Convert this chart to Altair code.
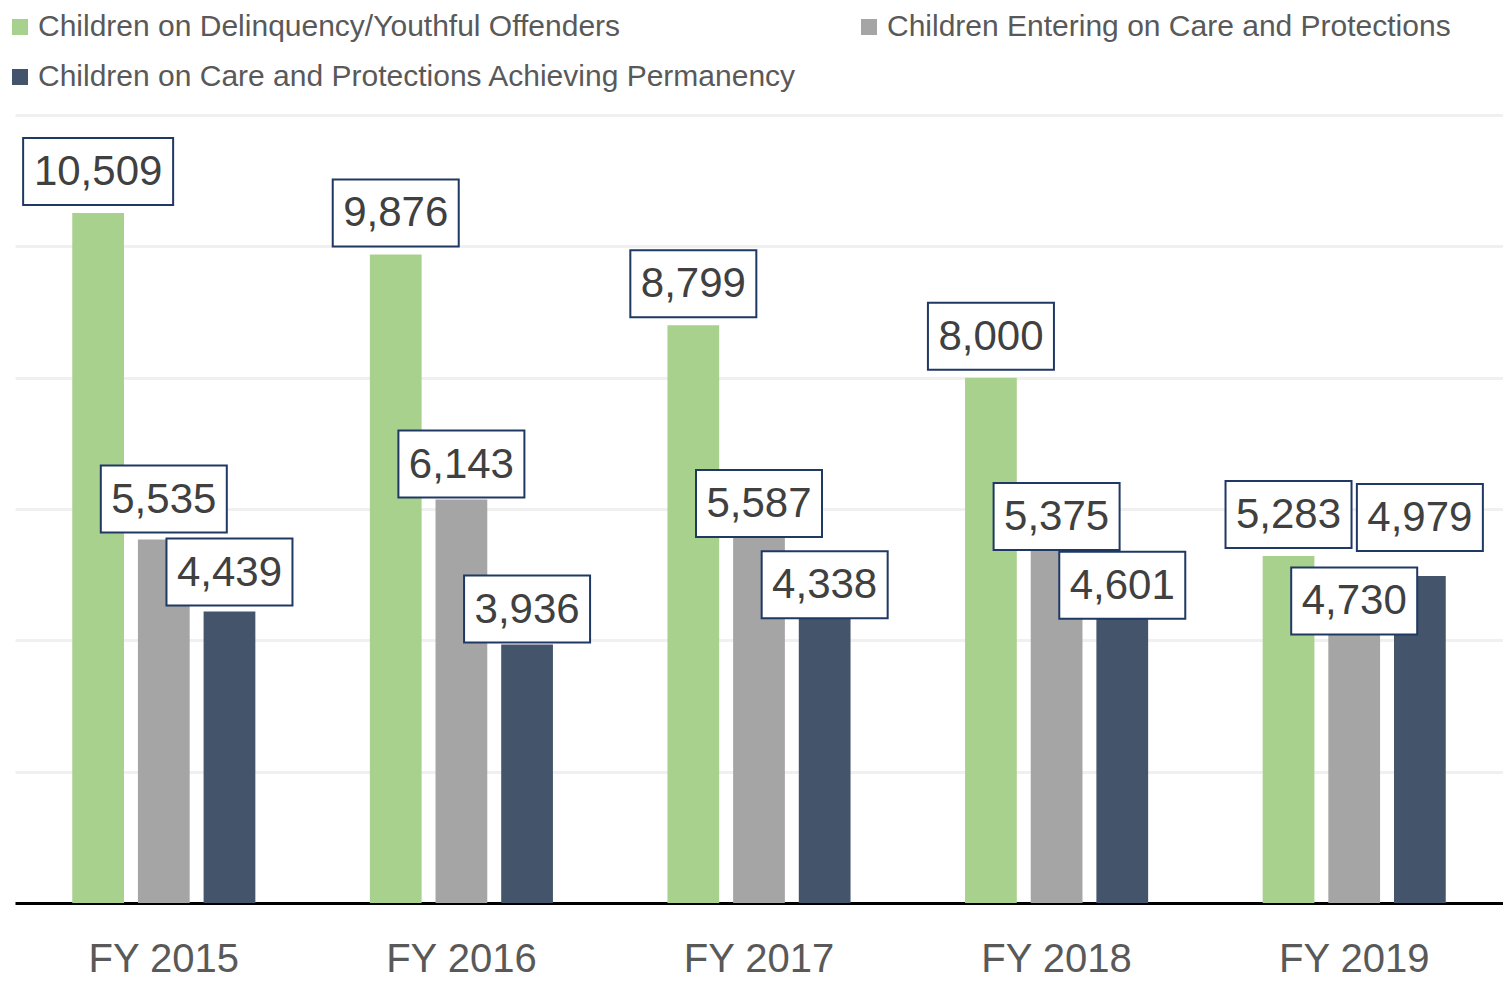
import altair as alt
import pandas as pd

years = ["FY 2015", "FY 2016", "FY 2017", "FY 2018", "FY 2019"]
series = [
    "Children on Delinquency/Youthful Offenders",
    "Children Entering on Care and Protections",
    "Children on Care and Protections Achieving Permanency",
]
delinquency = [10509, 9876, 8799, 8000, 5283]
entering = [5535, 6143, 5587, 5375, 4730]
permanency = [4439, 3936, 4338, 4601, 4979]
colors = ["#a9d18e", "#a5a5a5", "#44546a"]
grid_values = [0, 2000, 4000, 6000, 8000, 10000, 12000]

rows = []
for i, yr in enumerate(years):
    for s, vals in zip(series, [delinquency, entering, permanency]):
        rows.append({"year": yr, "series": s, "value": vals[i], "label": f"{vals[i]:,}"})
df = pd.DataFrame(rows)

# vertical nudges (pixels, + = down) of data labels moved to avoid overlap
label_nudge = {
    ("FY 2015", series[1]): 1,
    ("FY 2015", series[2]): 2,
    ("FY 2016", series[1]): 6,
    ("FY 2016", series[2]): 6,
    ("FY 2017", series[1]): 9,
    ("FY 2017", series[2]): 8,
    ("FY 2018", series[1]): 8,
    ("FY 2018", series[2]): 26,
    ("FY 2019", series[1]): 50,
    ("FY 2019", series[2]): -17,
}

x_enc = alt.X(
    "year:N",
    sort=years,
    scale=alt.Scale(paddingInner=0.338, paddingOuter=0.169),
    axis=alt.Axis(
        title=None,
        labelAngle=0,
        labelFont="Liberation Sans",
        labelFontSize=40,
        labelColor="#595959",
        labelPadding=36,
        ticks=False,
        grid=False,
        domainColor="#000000",
        domainWidth=3,
    ),
)
xo_enc = alt.XOffset("series:N", sort=series, scale=alt.Scale(paddingInner=0.212, paddingOuter=0.106))
y_enc = alt.Y(
    "value:Q",
    scale=alt.Scale(domain=[0, 12000], nice=False),
    axis=alt.Axis(
        title=None,
        labels=False,
        ticks=False,
        domain=False,
        values=grid_values,
        gridColor="#f0f0f0",
        gridWidth=3,
    ),
)

base = alt.Chart(df)

bars = base.mark_bar().encode(
    x=x_enc,
    xOffset=xo_enc,
    y=y_enc,
    color=alt.Color(
        "series:N",
        sort=series,
        scale=alt.Scale(domain=series, range=colors),
        legend=alt.Legend(
            title=None,
            orient="none",
            direction="horizontal",
            legendX=-10,
            legendY=-103,
            columns=2,
            columnPadding=57,
            rowPadding=20,
            symbolType="square",
            symbolSize=256,
            symbolStrokeWidth=0,
            labelFont="Liberation Sans",
            labelFontSize=30,
            labelColor="#595959",
            labelOffset=3,
            labelLimit=2000,
        ),
    ),
)


def label_layers(filter_expr, nudge):
    b = base.transform_filter(filter_expr).transform_calculate(
        boxw="length(datum.label) * 24 + 6"
    )
    box = b.mark_bar(
        fill="white", stroke="#1f3864", strokeWidth=2,
        yOffset=-8 + nudge, y2Offset=-75 + nudge,
    ).encode(
        x=x_enc, xOffset=xo_enc, y=y_enc, y2=alt.Y2("value"),
        size=alt.Size("boxw:Q", scale=None, legend=None),
    )
    txt = b.mark_text(
        font="Liberation Sans", fontSize=42, color="#404040",
        baseline="middle", align="center", dy=-41 + nudge,
    ).encode(x=x_enc, xOffset=xo_enc, y=y_enc, text="label:N")
    return [box, txt]


def cond(yr, s):
    return f"(datum.year == '{yr}' && datum.series == '{s}')"


default_expr = "!(" + " || ".join(cond(yr, s) for (yr, s) in label_nudge) + ")"
layers = [bars] + label_layers(default_expr, 0)
for (yr, s), n in label_nudge.items():
    layers += label_layers(cond(yr, s), n)

chart = alt.layer(*layers).properties(
    width=1488,
    height=788,
    padding={"left": 7, "top": 107, "right": 0, "bottom": 76},
    autosize=alt.AutoSizeParams(type="none"),
    background="white",
).configure_view(stroke=None)

chart.save("out.html", embed_options={"renderer": "svg", "actions": False})
